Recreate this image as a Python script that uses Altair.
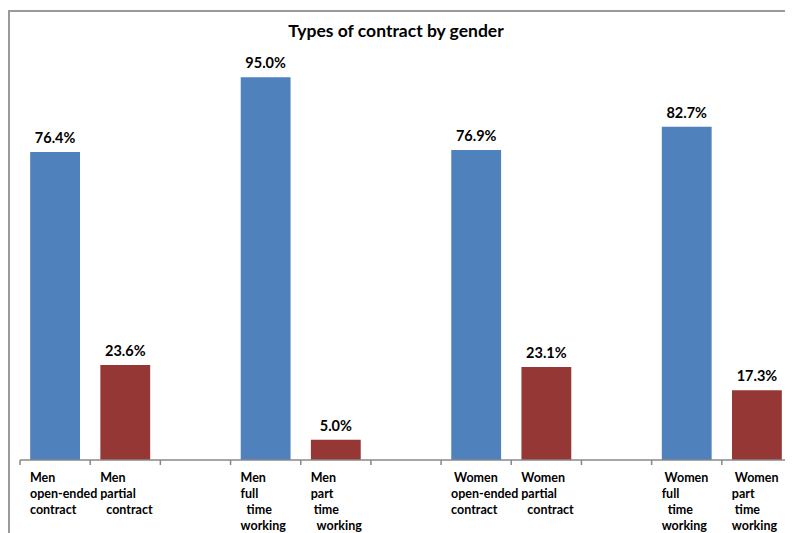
import altair as alt
import pandas as pd

NB = "\u00a0"
ZW = "\u200b"  # keeps leading spaces from being trimmed


def ind(n, s):
    return ZW + NB * n + s if n else s


# Category slots (blank slots are gaps between groups), label lines separated by "|"
categories = [
    "Men|open-ended|contract",
    f"Men|partial|{ind(2, 'contract')}",
    " ",
    f"Men|full|{ind(2, 'time')}|working",
    f"Men|part|{ind(1, 'time')}|{ind(2, 'working')}",
    "  ",
    f"{ind(1, 'Women')}|open-ended|contract",
    f"Women|partial|{ind(2, 'contract')}",
    "   ",
    f"{ind(1, 'Women')}|full|{ind(2, 'time')}|working",
    f"{ind(1, 'Women')}|part|{ind(1, 'time')}|working",
]
values = [76.4, 23.6, None, 95.0, 5.0, None, 76.9, 23.1, None, 82.7, 17.3]
series = ["first", "second", None, "first", "second", None,
          "first", "second", None, "first", "second"]
title_text = "Types of contract by gender"

rows = [
    {"cat": c, "value": v, "series": s}
    for c, v, s in zip(categories, values, series)
    if v is not None
]
df = pd.DataFrame(rows)
slots = pd.DataFrame({"cat": categories})

W, H = 765, 403
RANGE_END = 772  # the category axis runs past the right edge, as in the original
FONT = "Lato"
AXIS_GREY = "#888888"

xscale = alt.Scale(domain=categories, paddingInner=0, paddingOuter=0, range=[0, RANGE_END])
x_enc = alt.X("cat:N", scale=xscale, axis=None)
x_start = alt.X("cat:N", scale=xscale, axis=None, bandPosition=0)
y_enc = alt.Y("value:Q", scale=alt.Scale(domain=[0, 100]), axis=None)

bars = alt.Chart(df).mark_bar(width=alt.RelativeBandSize(0.71)).encode(
    x=x_enc,
    y=y_enc,
    color=alt.Color(
        "series:N",
        scale=alt.Scale(domain=["first", "second"], range=["#4F81BD", "#953735"]),
        legend=None,
    ),
)

texts = alt.Chart(df).transform_calculate(
    label="format(datum.value, '.1f') + '%'"
).mark_text(
    dy=-9, baseline="alphabetic", align="center",
    font=FONT, fontWeight="bold", fontSize=14.5, color="black",
).encode(x=x_enc, y=y_enc, text="label:N")

# category axis: baseline, ticks between slots, multi-line labels
domain_line = alt.Chart(pd.DataFrame({"k": [0]})).mark_rule(
    color=AXIS_GREY, strokeWidth=1.5
).encode(x=alt.value(0), x2=alt.value(W), y=alt.value(H))

ticks = alt.Chart(slots).mark_rule(color=AXIS_GREY, strokeWidth=1.5).encode(
    x=x_start, y=alt.value(H), y2=alt.value(H + 5)
)

cat_labels = alt.Chart(slots).mark_text(
    align="left", baseline="top", dx=10, lineBreak="|", lineHeight=16,
    font=FONT, fontWeight="bold", fontSize=12.5, color="black",
).encode(x=x_start, y=alt.value(H + 12), text="cat:N")

# chart-area frame (left and top edges)
frame = alt.Chart(pd.DataFrame({"k": [0]}))
left_border = frame.mark_rule(color="#9a9a9a", strokeWidth=2).encode(
    x=alt.value(-11), y=alt.value(-46), y2=alt.value(H + 80)
)
top_border = frame.mark_rule(color="#9a9a9a", strokeWidth=2).encode(
    x=alt.value(-12), x2=alt.value(W + 20), y=alt.value(-46)
)

title = alt.Chart(pd.DataFrame({"t": [title_text]})).mark_text(
    font=FONT, fontWeight="bold", fontSize=17.5, baseline="alphabetic",
    align="center", color="black",
).encode(x=alt.value(376), y=alt.value(-20.5), text="t:N")

chart = alt.layer(
    bars, texts, domain_line, ticks, cat_labels,
    left_border, top_border, title,
).properties(
    width=W,
    height=H,
    padding={"left": 12, "top": 49, "right": 0, "bottom": 73},
    autosize=alt.AutoSizeParams(type="none"),
    background="white",
).configure_view(stroke=None)

chart.save("out.html", embed_options={"renderer": "svg", "actions": False})
